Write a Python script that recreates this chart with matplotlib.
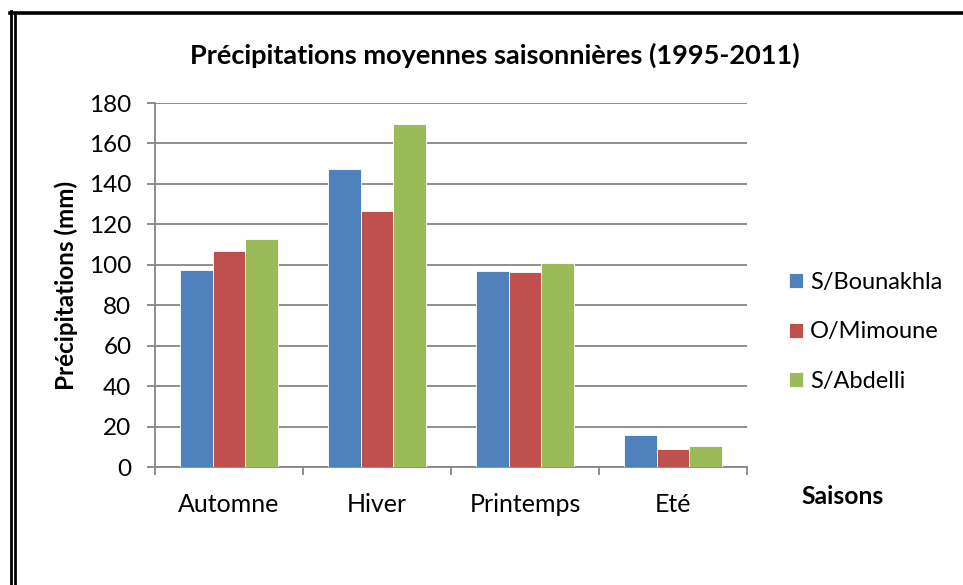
import numpy as np
import matplotlib
matplotlib.use('Agg')
from matplotlib import pyplot as plt
from matplotlib.lines import Line2D

plt.rcParams['font.family'] = ['Lato', 'DejaVu Sans']

saisons = ['Automne', 'Hiver', 'Printemps', 'Eté']
stations = ['S/Bounakhla', 'O/Mimoune', 'S/Abdelli']
s_bounakhla = [97.5, 147.3, 97.0, 15.7]
o_mimoune = [106.6, 126.6, 96.4, 8.8]
s_abdelli = [112.9, 169.6, 101.0, 10.4]
couleurs = ['#4F81BD', '#C0504D', '#9BBB59']

fig = plt.figure(figsize=(9.63, 5.85), dpi=100)
ax = fig.add_axes([155/963, 1-467/585, 592/963, 364/585])

x = np.arange(len(saisons))
w = 0.221
for k, (vals, nom) in enumerate(zip([s_bounakhla, o_mimoune, s_abdelli], stations)):
    ax.bar(x + (k-1)*w, vals, width=w, color=couleurs[k], edgecolor='white',
           linewidth=0.6, label=nom, zorder=3)

ax.set_xlim(-0.5, 3.5)
ax.set_ylim(0, 180)
ax.set_yticks(np.arange(0, 181, 20))
ax.yaxis.grid(True, color='#868686', linewidth=1.3, zorder=0)
ax.set_xticks(np.arange(-0.5, 3.6, 1))
ax.set_xticklabels([])
ax.set_xticks(x, minor=True)
ax.set_xticklabels(saisons, minor=True, fontsize=18)
ax.tick_params(axis='x', which='minor', length=0, pad=19)
ax.tick_params(axis='x', which='major', direction='out', length=6, color='#868686', width=1.3)
ax.tick_params(axis='y', direction='out', length=6, color='#868686', width=1.3, labelsize=17.5, pad=11)
for s in ['top', 'right']:
    ax.spines[s].set_visible(False)
for s in ['left', 'bottom']:
    ax.spines[s].set_color('#868686')
    ax.spines[s].set_linewidth(1.3)

fig.text(66/963, 1-285/585, 'Précipitations (mm)', fontsize=17.5, fontweight='bold',
         rotation=90, ha='center', va='center')
fig.text(495/963, 1-55/585, 'Précipitations moyennes saisonnières (1995-2011)',
         fontsize=19.5, fontweight='bold', ha='center', va='center')
fig.text(843/963, 1-497/585, 'Saisons', fontsize=17.8, fontweight='bold', ha='center', va='center')

leg = ax.legend(loc='upper left', bbox_to_anchor=(789/963, 1-272/585), bbox_transform=fig.transFigure,
                frameon=False, fontsize=17, borderpad=0, borderaxespad=0,
                handlelength=0.6, handleheight=0.6, handletextpad=0.3, labelspacing=1.2)

# cadre du document
fig.add_artist(Line2D([11/963, 11/963], [0, 1-11/585], color='black', lw=2, transform=fig.transFigure))
fig.add_artist(Line2D([15/963, 15/963], [0, 1-15/585], color='black', lw=2, transform=fig.transFigure))
fig.add_artist(Line2D([10/963, 1], [1-12.5/585, 1-12.5/585], color='black', lw=2.6, transform=fig.transFigure))

fig.savefig('out.png', dpi=100)
